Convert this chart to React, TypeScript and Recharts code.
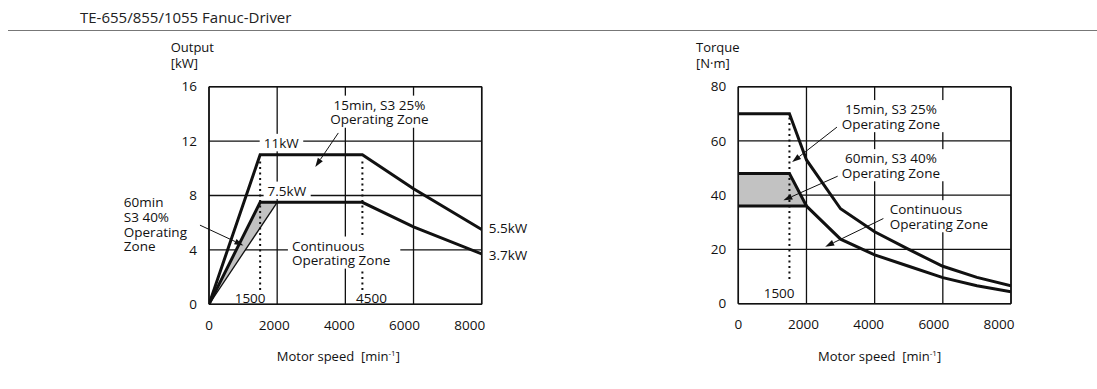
import { useLayoutEffect, useRef, useState } from "react";
import {
	ComposedChart,
	Line,
	Area,
	XAxis,
	YAxis,
	CartesianGrid,
	ReferenceLine,
	ReferenceDot,
	Label,
} from "recharts";

const FONT = "'Open Sans', sans-serif";
const INK = "#111";
const NOTE_SIZE = 13.5;
const NOTE_GAP = 14.6;

// axes
const speedTicks = [0, 2000, 4000, 6000, 8000];
const outputTicks = [0, 4, 8, 12, 16];
const torqueTicks = [0, 20, 40, 60, 80];

// output [kW] vs motor speed
const outputS3_25 = [
	{ speed: 0, value: 0 },
	{ speed: 1500, value: 11 },
	{ speed: 4500, value: 11 },
	{ speed: 6000, value: 8.5 },
	{ speed: 8000, value: 5.5 },
];
const outputS3_40 = [
	{ speed: 0, value: 0 },
	{ speed: 1500, value: 7.5 },
	{ speed: 4500, value: 7.5 },
	{ speed: 6000, value: 5.7 },
	{ speed: 8000, value: 3.7 },
];
const outputContinuousRise = [
	{ speed: 0, value: 0 },
	{ speed: 2000, value: 7.5 },
];
const outputS3_40Band = [
	{ speed: 0, range: [0, 0] },
	{ speed: 1500, range: [5.6, 7.5] },
	{ speed: 2000, range: [7.5, 7.5] },
];

// torque [N·m] vs motor speed
const torqueS3_25 = [
	{ speed: 0, value: 70 },
	{ speed: 1500, value: 70 },
	{ speed: 2000, value: 53 },
	{ speed: 3000, value: 35 },
	{ speed: 4000, value: 26.5 },
	{ speed: 5000, value: 20 },
	{ speed: 6000, value: 13.8 },
	{ speed: 7000, value: 9.7 },
	{ speed: 8000, value: 6.6 },
];
const torqueS3_40 = [
	{ speed: 0, value: 48 },
	{ speed: 1500, value: 48 },
	{ speed: 2000, value: 36 },
];
const torqueContinuous = [
	{ speed: 0, value: 36 },
	{ speed: 2000, value: 36 },
	{ speed: 3000, value: 23.8 },
	{ speed: 4000, value: 18 },
	{ speed: 5000, value: 13.8 },
	{ speed: 6000, value: 9.6 },
	{ speed: 7000, value: 6.6 },
	{ speed: 8000, value: 4.4 },
];
const torqueS3_40Band = [
	{ speed: 0, range: [36, 48] },
	{ speed: 1500, range: [36, 48] },
	{ speed: 2000, range: [36, 36] },
];

// annotations (data coordinates)
const outputNotes = [
	{ x: 5000, y: 14.65, lines: ["15min, S3 25%", "Operating Zone"], anchor: "middle", bg: true },
	{ x: 2118, y: 11.84, lines: ["11kW"], anchor: "middle", bg: true },
	{ x: 2285, y: 8.33, lines: ["7.5kW"], anchor: "middle", bg: true },
	{ x: 8206, y: 5.59, lines: ["5.5kW"], anchor: "start", bg: false },
	{ x: 8206, y: 3.63, lines: ["3.7kW"], anchor: "start", bg: false },
	{ x: 1206, y: 0.44, lines: ["1500"], anchor: "middle", bg: false },
	{ x: 4765, y: 0.44, lines: ["4500"], anchor: "middle", bg: false },
	{ x: 2432, y: 4.29, lines: ["Continuous", "Operating Zone"], anchor: "start", bg: true, padR: 10 },
	{ x: -2500, y: 7.47, lines: ["60min", "S3 40%", "Operating", "Zone"], anchor: "start", bg: false },
];
const outputArrows = [
	[{ x: 3794, y: 12.6 }, { x: 3118, y: 10.1 }],
	[{ x: -265, y: 5.82 }, { x: 1010, y: 4.33 }],
];
const outputDotted = [
	[{ x: 1500, y: 10.5 }, { x: 1500, y: 1.05 }],
	[{ x: 4500, y: 10.5 }, { x: 4500, y: 1.05 }],
];

const torqueNotes = [
	{ x: 4476, y: 71.6, lines: ["15min, S3 25%", "Operating Zone"], anchor: "middle", bg: true },
	{ x: 4476, y: 53.5, lines: ["60min, S3 40%", "Operating Zone"], anchor: "middle", bg: true },
	{ x: 4441, y: 34.7, lines: ["Continuous", "Operating Zone"], anchor: "start", bg: true },
	{ x: 1197, y: 3.8, lines: ["1500"], anchor: "middle", bg: false },
];
const torqueArrows = [
	[{ x: 2894, y: 65.1 }, { x: 1580, y: 52.2 }],
	[{ x: 2932, y: 47.1 }, { x: 1324, y: 38.1 }],
	[{ x: 4256, y: 31.4 }, { x: 2550, y: 21.0 }],
];
const torqueDotted = [[{ x: 1500, y: 68.6 }, { x: 1500, y: 8.7 }]];

function TextBlock({ cx, cy, lines, anchor = "middle", bg = false, padR = 4 }: any) {
	const ref = useRef<SVGTextElement>(null);
	const [box, setBox] = useState<any>(null);
	useLayoutEffect(() => {
		if (bg && ref.current) {
			const b = ref.current.getBBox();
			setBox({ x: b.x, width: b.width });
		}
	}, [bg, cx, cy]);
	// background only as tall as the glyphs, so it never hides a curve
	const top = cy - NOTE_SIZE * 0.55 - 2;
	const bottom = cy + (lines.length - 1) * NOTE_GAP + NOTE_SIZE * 0.45 + 2;
	return (
		<g>
			{bg && box && (
				<rect
					x={box.x - 4}
					y={top}
					width={box.width + 4 + padR}
					height={bottom - top}
					fill='#fff'
				/>
			)}
			<text
				ref={ref}
				x={cx}
				y={cy}
				textAnchor={anchor}
				fontFamily={FONT}
				fontSize={NOTE_SIZE}
				fill={INK}>
				{lines.map((l: string, i: number) => (
					<tspan key={i} x={cx} dy={i === 0 ? "0.35em" : NOTE_GAP}>
						{l}
					</tspan>
				))}
			</text>
		</g>
	);
}

function Arrow({ x1, y1, x2, y2 }: any) {
	const a = Math.atan2(y2 - y1, x2 - x1);
	const len = 9;
	const w = 3;
	const bx = x2 - len * Math.cos(a);
	const by = y2 - len * Math.sin(a);
	const pts = `${x2},${y2} ${bx + w * Math.sin(a)},${by - w * Math.cos(a)} ${
		bx - w * Math.sin(a)
	},${by + w * Math.cos(a)}`;
	return (
		<g>
			<line x1={x1} y1={y1} x2={bx} y2={by} stroke={INK} strokeWidth={1} />
			<polygon points={pts} fill={INK} />
		</g>
	);
}

function SpeedTick({ x, y, payload, index }: any) {
	return (
		<text
			x={x - index * 3}
			y={y}
			dy='0.71em'
			textAnchor='middle'
			fontFamily={FONT}
			fontSize={13.5}
			fill={INK}>
			{payload.value}
		</text>
	);
}

function SpeedTitle({ viewBox, shift }: any) {
	const cx = viewBox.x + viewBox.width / 2 + shift;
	return (
		<text
			x={cx}
			y={viewBox.y + 57}
			textAnchor='middle'
			fontFamily={FONT}
			fontSize={13}
			fill={INK}>
			Motor speed{"\u00a0\u00a0"}[min
			<tspan dy={-5} fontSize={8}>
				-1
			</tspan>
			<tspan dy={5}>]</tspan>
		</text>
	);
}

function ValueTitle({ viewBox, lines, shift }: any) {
	return (
		<text x={viewBox.x + shift} y={viewBox.y - 34.6} fontFamily={FONT} fontSize={13} fill={INK}>
			<tspan x={viewBox.x + shift}>{lines[0]}</tspan>
			<tspan x={viewBox.x + shift} dy={16}>
				{lines[1]}
			</tspan>
		</text>
	);
}

function SpeedChart({
	width,
	margin,
	yMax,
	yTicks,
	yTitle,
	yShift,
	xShift,
	band,
	thick,
	thin,
	notes,
	arrows,
	dotted,
}: any) {
	return (
		<ComposedChart width={width} height={350} margin={margin}>
			<CartesianGrid stroke={INK} strokeWidth={1.3} />
			<XAxis
				type='number'
				dataKey='speed'
				domain={[0, 8000]}
				ticks={speedTicks}
				tick={<SpeedTick />}
				tickLine={false}
				tickSize={14}
				height={40}
				axisLine={{ stroke: INK, strokeWidth: 1.5 }}
				allowDataOverflow>
				<Label content={(p: any) => <SpeedTitle viewBox={p.viewBox} shift={xShift} />} />
			</XAxis>
			<YAxis
				type='number'
				domain={[0, yMax]}
				ticks={yTicks}
				tickLine={false}
				tickSize={10}
				width={40}
				tick={{ fill: INK, fontFamily: FONT, fontSize: 13.5 }}
				axisLine={{ stroke: INK, strokeWidth: 1.5 }}
				allowDataOverflow>
				<Label
					content={(p: any) => (
						<ValueTitle viewBox={p.viewBox} lines={yTitle} shift={yShift} />
					)}
				/>
			</YAxis>
			<ReferenceLine y={yMax} stroke={INK} strokeWidth={1.5} />
			<ReferenceLine x={8000} stroke={INK} strokeWidth={1.5} />
			<Area
				data={band}
				dataKey='range'
				type='linear'
				fill='#c2c2c2'
				fillOpacity={1}
				stroke='none'
				isAnimationActive={false}
			/>
			{notes.map((n: any, i: number) => (
				<ReferenceDot
					key={`note-${i}`}
					x={n.x}
					y={n.y}
					r={0}
					ifOverflow='visible'
					shape={(p: any) => (
						<TextBlock
							cx={p.cx}
							cy={p.cy}
							lines={n.lines}
							anchor={n.anchor}
							bg={n.bg}
							padR={n.padR ?? 4}
						/>
					)}
				/>
			))}
			{dotted.map((seg: any, i: number) => (
				<ReferenceLine
					key={`dot-${i}`}
					segment={seg}
					stroke={INK}
					strokeWidth={2}
					strokeDasharray='2 3.5'
					ifOverflow='visible'
				/>
			))}
			{thin.map((d: any, i: number) => (
				<Line
					key={`thin-${i}`}
					data={d}
					dataKey='value'
					type='linear'
					stroke={INK}
					strokeWidth={1.3}
					dot={false}
					activeDot={false}
					isAnimationActive={false}
				/>
			))}
			{thick.map((d: any, i: number) => (
				<Line
					key={`thick-${i}`}
					data={d}
					dataKey='value'
					type='linear'
					stroke={INK}
					strokeWidth={3}
					dot={false}
					activeDot={false}
					isAnimationActive={false}
				/>
			))}
			{arrows.map((seg: any, i: number) => (
				<ReferenceLine
					key={`arrow-${i}`}
					segment={seg}
					ifOverflow='visible'
					shape={(p: any) => <Arrow {...p} />}
				/>
			))}
		</ComposedChart>
	);
}

export default function App() {
	return (
		<div
			style={{
				position: "absolute",
				left: 0,
				top: 0,
				width: 1097,
				height: 389,
				background: "#fff",
				fontFamily: FONT,
			}}>
			<div
				style={{
					position: "absolute",
					left: 80,
					top: 7,
					fontSize: 15,
					lineHeight: "20px",
					color: "#222",
				}}>
				TE-655/855/1055 Fanuc-Driver
			</div>
			<div
				style={{
					position: "absolute",
					left: 8,
					top: 30,
					width: 1089,
					height: 0,
					borderTop: "1px solid #777",
				}}
			/>
			<div style={{ position: "absolute", left: 100, top: 30 }}>
				<SpeedChart
					width={450}
					margin={{ top: 56.7, right: 68.3, bottom: 35.7, left: 69 }}
					yMax={16}
					yTicks={outputTicks}
					yTitle={["Output", "[kW]"]}
					yShift={1.7}
					xShift={-7}
					band={outputS3_40Band}
					thick={[outputS3_25, outputS3_40]}
					thin={[outputContinuousRise]}
					notes={outputNotes}
					arrows={outputArrows}
					dotted={outputDotted}
				/>
			</div>
			<div style={{ position: "absolute", left: 660, top: 30 }}>
				<SpeedChart
					width={420}
					margin={{ top: 56.7, right: 69, bottom: 36.3, left: 38.3 }}
					yMax={80}
					yTicks={torqueTicks}
					yTitle={["Torque", "[N·m]"]}
					yShift={-2.3}
					xShift={5}
					band={torqueS3_40Band}
					thick={[torqueS3_25, torqueS3_40, torqueContinuous]}
					thin={[]}
					notes={torqueNotes}
					arrows={torqueArrows}
					dotted={torqueDotted}
				/>
			</div>
		</div>
	);
}
